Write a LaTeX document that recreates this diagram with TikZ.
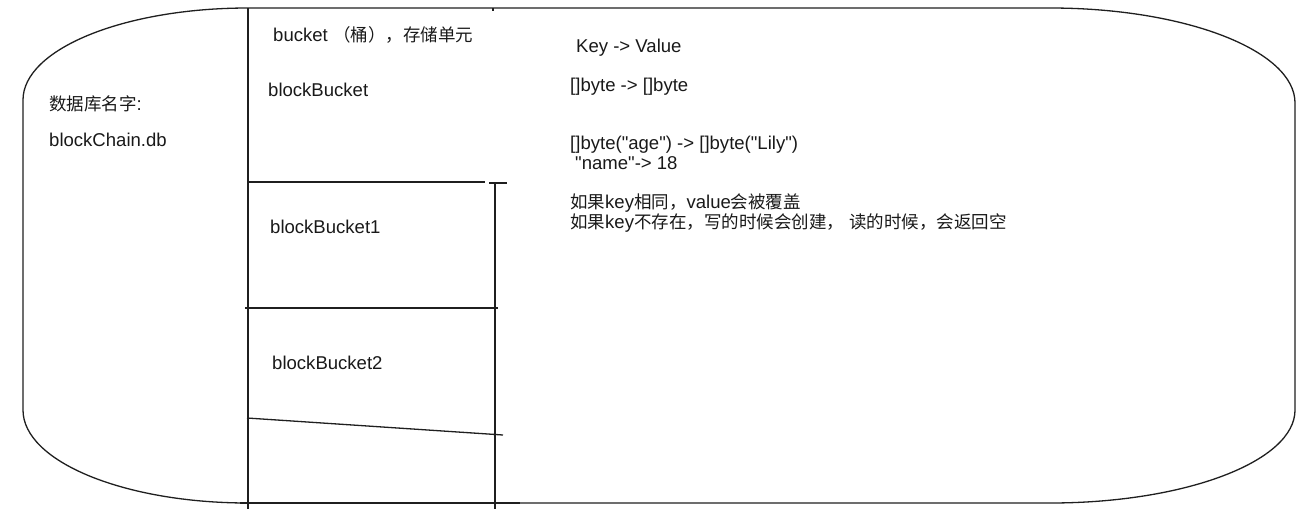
\documentclass[tikz,border=0pt]{standalone}
\usepackage{fontspec}
\setmainfont{Liberation Sans}[Scale=1.06]
\newfontfamily\cjk{Noto Sans CJK SC}
\newfontfamily\qfont{Liberation Sans}[Scale=1.06]
\newcommand{\qq}{{\qfont"}}
\begin{document}
\begin{tikzpicture}[x=1pt,y=-1pt,
  ln/.style={draw=black!88,line width=1.3pt},
  txt/.style={anchor=base west,inner sep=0pt,font=\fontsize{17.5}{20}\selectfont,text=black!90}]
\useasboundingbox (0,0) rectangle (1311,509);
% outer database shape
\draw[ln] (248,8) -- (1050,8)
  arc[start angle=270,end angle=360,x radius=245,y radius=95]
  -- (1295,410)
  arc[start angle=0,end angle=90,x radius=245,y radius=93]
  -- (248,503)
  arc[start angle=90,end angle=180,x radius=225,y radius=93]
  -- (23,100)
  arc[start angle=180,end angle=270,x radius=225,y radius=92] -- cycle;
% bucket columns
\draw[ln] (248,8) -- (248,509);
\draw[ln] (495,182) -- (495,509);
\draw[ln] (493,8) -- (493,11);
\draw[ln] (248,182) -- (485,182);
\draw[ln] (489,183) -- (507,183);
\draw[ln] (245,308) -- (498,308);
\draw[ln] (247,418) -- (503,435);
\draw[ln] (240,503) -- (520,503);
% texts
\node[txt] (db1) at (49,110) {{\cjk 数据库名字}:};
\node[txt] (db2) at (49,146) {blockChain.db};
\node[txt] (bk) at (273,41) {bucket {\cjk （桶），存储单元}};
\node[txt] (b0) at (268,96) {blockBucket};
\node[txt] (b1) at (270,233) {blockBucket1};
\node[txt] (b2) at (272,369) {blockBucket2};
\node[txt] (kv) at (576,52) {Key -> Value};
\node[txt] (by) at (570,91) {[]byte -> []byte};
\node[txt] (ex1) at (570,149) {[]byte(\qq age\qq) -> []byte(\qq Lily\qq)};
\node[txt] (ex2) at (575,169) {\qq name\qq-> 18};
\node[txt] (n1) at (570,208) {{\cjk 如果}key{\cjk 相同，}value{\cjk 会被覆盖}};
\node[txt] (n2) at (570,228) {{\cjk 如果}key{\cjk 不存在，写的时候会创建，} {\cjk 读的时候，会返回空}};
\end{tikzpicture}
\end{document}
